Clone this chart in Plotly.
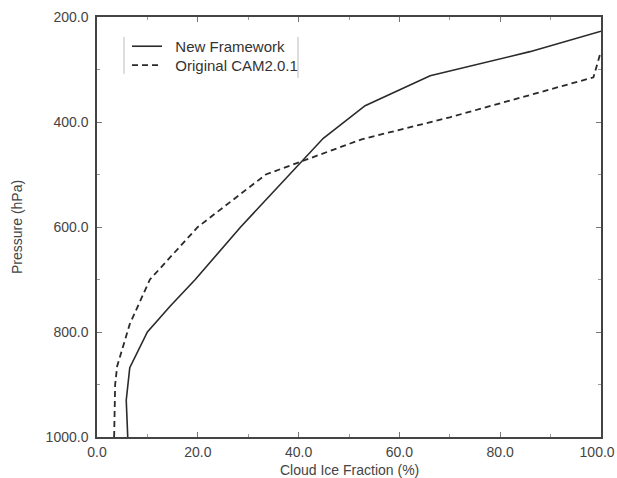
import plotly.graph_objects as go

# Data
new_frac = [6.1, 5.8, 6.5, 10.0, 14.5, 19.5, 28.5, 44.9, 53.2, 66.1, 85.9, 100.0]
new_pres = [1000, 930, 868, 800, 751, 700, 600, 431, 369, 312, 266, 227]

orig_frac = [3.4, 3.6, 4.0, 6.5, 10.5, 20.0, 33.5, 52.5, 70.0, 98.5, 100.0]
orig_pres = [1000, 900, 865, 785, 700, 600, 500, 433, 391, 315, 265]

x_ticks = [0, 20, 40, 60, 80, 100]
x_labels = ["0.0", "20.0", "40.0", "60.0", "80.0", "100.0\u00a0\u00a0"]
y_ticks = [200, 400, 600, 800, 1000]
y_labels = ["200.0", "400.0", "600.0", "800.0", "1000.0"]

FONT = "Liberation Sans, Arial, sans-serif"
INK = "#333333"
NB = "\u00a0\u00a0"

fig = go.Figure()
fig.add_trace(go.Scatter(x=new_frac, y=new_pres, mode="lines", name=NB + "New Framework",
                         legend="legend",
                         line=dict(color="#2a2a2a", width=1.6)))
fig.add_trace(go.Scatter(x=orig_frac, y=orig_pres, mode="lines", name=NB + "Original CAM2.0.1",
                         legend="legend2",
                         line=dict(color="#2a2a2a", width=1.8, dash="6px,4px")))

W, H = 617, 478
L, R, T, B = 97, 16, 17, 40.5
pw, ph = W - L - R, H - T - B

def px2paper_x(px):
    return (px - L) / pw

def px2paper_y(py):
    return 1 - (py - T) / ph

axis_common = dict(showgrid=False, zeroline=False, showline=True, linecolor="#444444",
                   linewidth=1.5, mirror="ticks", ticks="inside", ticklen=5, tickwidth=1,
                   tickcolor="#777777", ticklabeloverflow="allow", automargin=False,
                   tickfont=dict(family=FONT, size=14, color="#444444"))

fig.update_xaxes(range=[-0.001, 100.001], tickvals=x_ticks, ticktext=x_labels,
                 minor=dict(dtick=10, ticks="inside", ticklen=3, tickcolor="#999999"),
                 ticklabelstandoff=1, **axis_common)
fig.update_yaxes(range=[1000.01, 199.99], tickvals=y_ticks, ticktext=y_labels,
                 minor=dict(dtick=100, ticks="inside", ticklen=3, tickcolor="#999999"),
                 ticklabelstandoff=4, **axis_common)

leg_common = dict(xanchor="left", yanchor="top", bgcolor="rgba(0,0,0,0)", borderwidth=0,
                  font=dict(family=FONT, size=15, color=INK), itemwidth=30)

fig.update_layout(
    width=W, height=H,
    margin=dict(l=L, r=R, t=T, b=B, pad=0, autoexpand=False),
    paper_bgcolor="white", plot_bgcolor="white",
    font=dict(family=FONT, size=15, color="#444444"),
    showlegend=True,
    legend=dict(x=px2paper_x(127), y=px2paper_y(30), **leg_common),
    legend2=dict(x=px2paper_x(127), y=px2paper_y(49), **leg_common),
    annotations=[
        dict(text="Cloud Ice Fraction (%)", xref="paper", yref="paper",
             x=0.5, y=px2paper_y(471), xanchor="center", yanchor="middle",
             showarrow=False, font=dict(family=FONT, size=14, color="#444444")),
        dict(text="Pressure (hPa)", xref="paper", yref="paper",
             x=px2paper_x(17), y=0.5, xanchor="center", yanchor="middle", textangle=-90,
             showarrow=False, font=dict(family=FONT, size=14, color="#444444")),
    ],
    shapes=[
        dict(type="line", xref="paper", yref="paper",
             x0=px2paper_x(124), x1=px2paper_x(124), y0=px2paper_y(37), y1=px2paper_y(74),
             line=dict(color="#bbbbbb", width=1)),
        dict(type="line", xref="paper", yref="paper",
             x0=px2paper_x(298), x1=px2paper_x(298), y0=px2paper_y(37), y1=px2paper_y(78),
             line=dict(color="#bbbbbb", width=1)),
    ],
)

fig.write_html("out.html")
